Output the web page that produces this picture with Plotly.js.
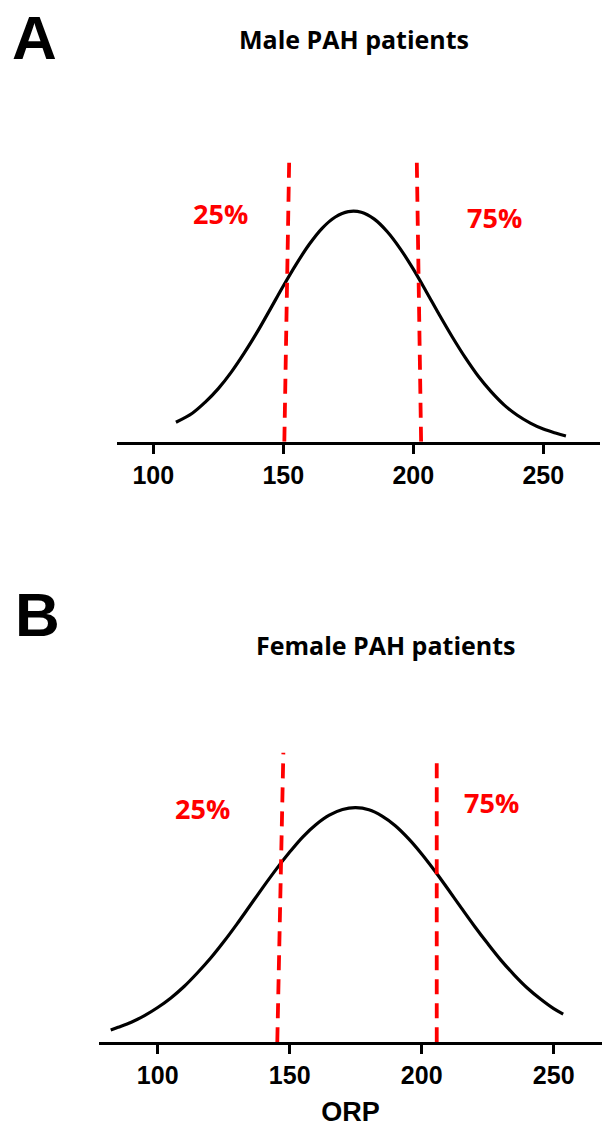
<!DOCTYPE html>
<html>
<head>
<meta charset="utf-8">
<script src="https://cdn.plot.ly/plotly-3.0.1.min.js"></script>
<style>
html,body{margin:0;padding:0;background:#fff;}
#chart{width:602px;height:1130px;}
</style>
</head>
<body>
<div id="chart"></div>
<script>
// ---- Data ----
const tickValues = [100, 150, 200, 250];
const tickLabels = ["100", "150", "200", "250"];

// Male PAH patients: distribution curve (ORP, relative height)
const maleORP    = [108.7, 115, 120, 125, 130, 135, 140, 145, 150, 155, 160, 165, 170, 175, 180, 185, 190, 195, 200, 205, 210, 215, 220, 225, 230, 235, 240, 245, 250, 255, 258.7];
const maleHeight = [6.5, 9.5, 13.2, 17.7, 23.2, 29.6, 36.6, 44.2, 51.9, 59.2, 65.8, 71.2, 74.9, 76.7, 76.5, 74.2, 70.0, 64.3, 57.5, 50.0, 42.3, 34.9, 28.0, 21.8, 16.6, 12.2, 8.8, 6.2, 4.2, 2.8, 1.9];
// quartile markers (25%, 75%): bottom/top ORP and top height
const maleQuartileLabels = ["25%", "75%"];
const maleQuartileBottom = [150.4, 203.0];
const maleQuartileTop    = [152.3, 201.3];
const maleQuartileHeight = [95.6, 95.8];

// Female PAH patients
const femaleORP    = [82.2, 85, 90, 95, 100, 105, 110, 115, 120, 125, 130, 135, 140, 145, 150, 155, 160, 165, 170, 175, 180, 185, 190, 195, 200, 205, 210, 215, 220, 225, 230, 235, 240, 245, 250, 253.6];
const femaleHeight = [4.1, 5.0, 6.7, 8.9, 11.6, 14.8, 18.6, 23.1, 28.0, 33.5, 39.4, 45.6, 51.8, 57.8, 63.4, 68.5, 72.6, 75.7, 77.6, 78.2, 77.5, 75.4, 72.2, 67.9, 62.8, 57.1, 51.0, 44.8, 38.7, 32.9, 27.4, 22.5, 18.1, 14.4, 11.2, 9.4];
const femaleQuartileLabels = ["25%", "75%"];
const femaleQuartileBottom = [145.3, 205.7];
const femaleQuartileTop    = [147.6, 205.7];
const femaleQuartileHeight = [96.5, 95.4];

const panelTitles = ["Male PAH patients", "Female PAH patients"];
const panelLetters = ["A", "B"];
const xTitle = "ORP";

// ---- Figure ----
const W = 602, H = 1130;
const px = v => v / W;
const py = v => 1 - v / H;

const traces = [];
function addPanel(xa, ya, xs, ys, qb, qt, qh) {
  traces.push({x: xs, y: ys, xaxis: xa, yaxis: ya, type: 'scatter', mode: 'lines',
    line: {color: '#000', width: 3.2, shape: 'spline', smoothing: 1}, hoverinfo: 'skip'});
  for (let i = 0; i < qb.length; i++) {
    traces.push({x: [qb[i], qt[i]], y: [0, qh[i]], xaxis: xa, yaxis: ya, type: 'scatter', mode: 'lines',
      line: {color: '#ff0000', width: 3.8, dash: '15px,9px'}, hoverinfo: 'skip'});
  }
}
addPanel('x', 'y', maleORP, maleHeight, maleQuartileBottom, maleQuartileTop, maleQuartileHeight);
addPanel('x2', 'y2', femaleORP, femaleHeight, femaleQuartileBottom, femaleQuartileTop, femaleQuartileHeight);

const tickfont = {family: 'Liberation Sans, Arial, sans-serif', size: 25, color: '#000', weight: 'bold'};
function xaxisDef(domain, range, showTitle) {
  const a = {domain: domain, range: range, showgrid: false, zeroline: false,
    showline: true, linecolor: '#000', linewidth: 3, ticks: 'outside', ticklen: 9, tickwidth: 3,
    tickcolor: '#000', tickmode: 'array', tickvals: tickValues, ticktext: tickLabels, tickfont: tickfont,
    fixedrange: true};
  if (showTitle) a.title = {text: xTitle, font: {family: 'Liberation Sans, Arial, sans-serif', size: 27, color: '#000', weight: 'bold'}, standoff: 14};
  return a;
}
function yaxisDef(domain) {
  return {domain: domain, range: [0, 100], visible: false, fixedrange: true};
}

const percFont = {family: 'Open Sans, sans-serif', size: 27, color: '#ff0000', weight: 'bold'};
const annotations = [];
maleQuartileLabels.forEach((t, i) => {
  annotations.push({text: t, xref: 'x', yref: 'y', x: [125.8, 231.4][i], y: [76.2, 74.9][i],
    showarrow: false, font: percFont, xanchor: 'center', yanchor: 'middle'});
});
femaleQuartileLabels.forEach((t, i) => {
  annotations.push({text: t, xref: 'x2', yref: 'y2', x: [117.0, 226.3][i], y: [77.9, 79.9][i],
    showarrow: false, font: percFont, xanchor: 'center', yanchor: 'middle'});
});
const titleFont = {family: 'Open Sans, sans-serif', size: 25, color: '#000', weight: 'bold'};
annotations.push({text: panelTitles[0], xref: 'paper', yref: 'paper', x: px(354), y: py(39),
  showarrow: false, font: titleFont, xanchor: 'center', yanchor: 'middle'});
annotations.push({text: panelTitles[1], xref: 'paper', yref: 'paper', x: px(386), y: py(645),
  showarrow: false, font: titleFont, xanchor: 'center', yanchor: 'middle'});
const letterFont = {family: 'Liberation Sans, Arial, sans-serif', size: 62, color: '#000', weight: 'bold'};
annotations.push({text: panelLetters[0], xref: 'paper', yref: 'paper', x: px(34), y: py(37),
  showarrow: false, font: letterFont, xanchor: 'center', yanchor: 'middle'});
annotations.push({text: panelLetters[1], xref: 'paper', yref: 'paper', x: px(37), y: py(614),
  showarrow: false, font: letterFont, xanchor: 'center', yanchor: 'middle'});

const layout = {
  width: W, height: H, margin: {l: 0, r: 0, t: 0, b: 0},
  paper_bgcolor: '#fff', plot_bgcolor: 'rgba(0,0,0,0)', showlegend: false,
  xaxis: xaxisDef([px(117), px(600)], [86.04, 271.8], false),
  yaxis: yaxisDef([py(441.7), py(141.7)]),
  xaxis2: xaxisDef([px(99), 1], [77.77, 268.3], true),
  yaxis2: yaxisDef([py(1042.3), py(742.3)]),
  annotations: annotations
};
layout.xaxis.anchor = 'y';
layout.xaxis2.anchor = 'y2';
layout.yaxis.anchor = 'x';
layout.yaxis2.anchor = 'x2';

Plotly.newPlot('chart', traces, layout, {staticPlot: true, displayModeBar: false});
</script>
</body>
</html>
